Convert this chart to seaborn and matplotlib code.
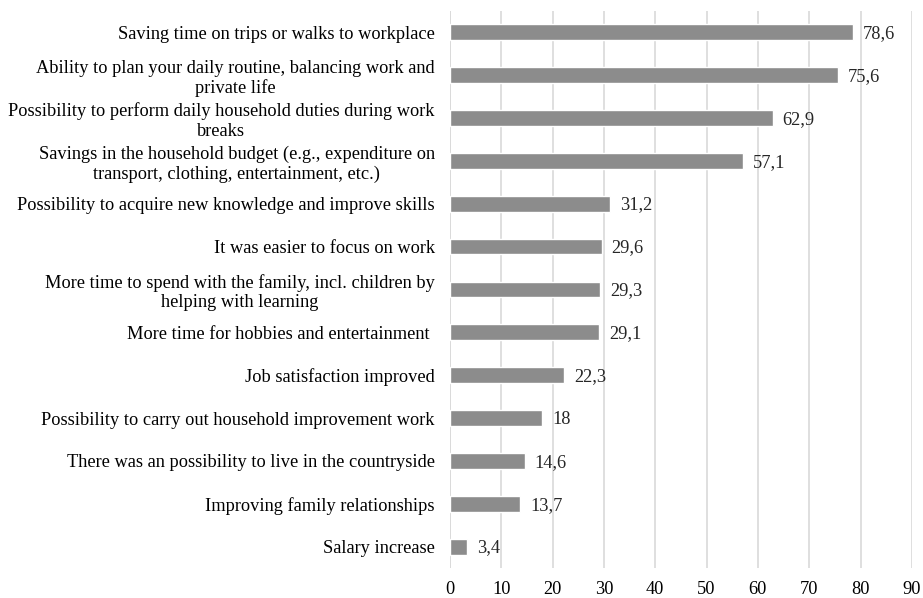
import pandas as pd
import seaborn as sns
import matplotlib.pyplot as plt

categories = [
    "Saving time on trips or walks to workplace",
    "Ability to plan your daily routine, balancing work and\nprivate life",
    "Possibility to perform daily household duties during work\nbreaks",
    "Savings in the household budget (e.g., expenditure on\ntransport, clothing, entertainment, etc.)",
    "Possibility to acquire new knowledge and improve skills",
    "It was easier to focus on work",
    "More time to spend with the family, incl. children by\nhelping with learning",
    "More time for hobbies and entertainment ",
    "Job satisfaction improved",
    "Possibility to carry out household improvement work",
    "There was an possibility to live in the countryside",
    "Improving family relationships",
    "Salary increase",
]
values = [78.6, 75.6, 62.9, 57.1, 31.2, 29.6, 29.3, 29.1, 22.3, 18, 14.6, 13.7, 3.4]
value_labels = ["78,6", "75,6", "62,9", "57,1", "31,2", "29,6", "29,3", "29,1", "22,3", "18", "14,6", "13,7", "3,4"]

df = pd.DataFrame({"category": categories, "value": values})

sns.set_style("white")
plt.rcParams["font.family"] = ["Liberation Serif", "DejaVu Serif"]

fig = plt.figure(figsize=(9.23, 5.98), dpi=100)
ax = fig.add_axes([0.4875, 0.05, 0.5005, 0.932])

sns.barplot(data=df, x="value", y="category", color="#8c8c8c", saturation=1,
            width=0.37, ax=ax)

ax.set_xlim(0, 90)
ax.set_xticks(range(0, 91, 10))
ax.grid(axis="x", color="#d9d9d9", linewidth=1.2)
ax.set_axisbelow(True)
for s in ax.spines.values():
    s.set_visible(False)
ax.axvline(0, color="#d9d9d9", linewidth=1.2, zorder=0)
ax.set_xlabel("")
ax.set_ylabel("")
ax.tick_params(axis="both", length=0, labelsize=13.2, colors="black")
ax.tick_params(axis="y", pad=11)
ax.tick_params(axis="x", pad=9)
for lbl in ax.get_yticklabels():
    lbl.set_multialignment("center")

for i, (v, t) in enumerate(zip(values, value_labels)):
    ax.annotate(t, (v, i), xytext=(7, -1), textcoords="offset points",
                va="center", ha="left", fontsize=13.2)

fig.savefig("out.png", dpi=100)
